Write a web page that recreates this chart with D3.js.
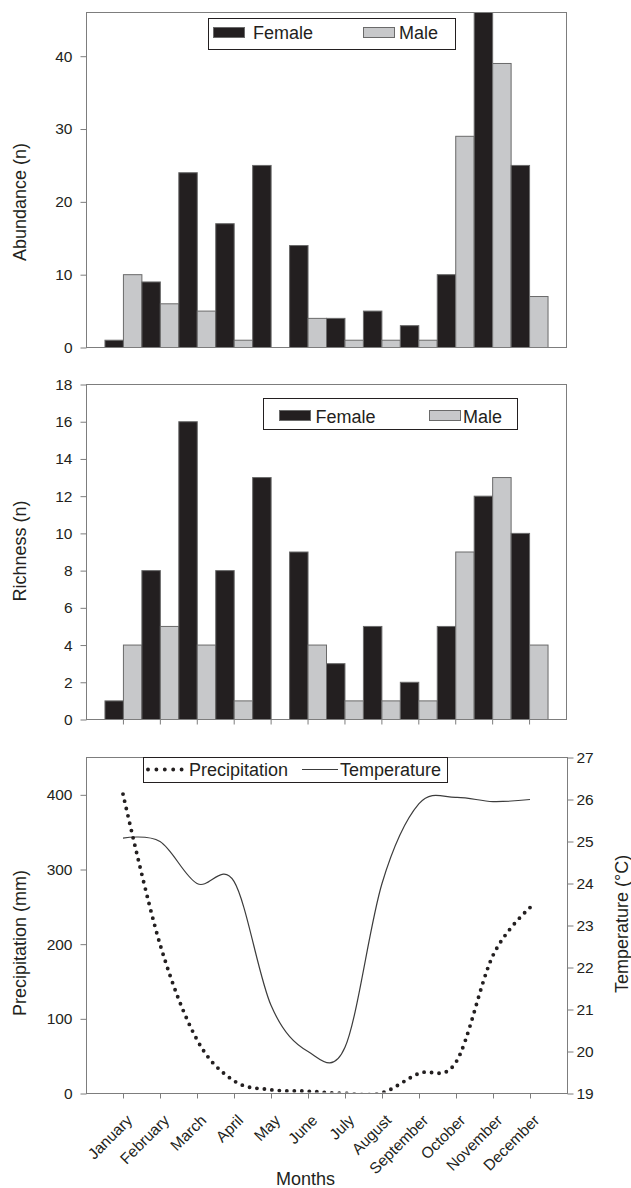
<!DOCTYPE html>
<html>
<head>
<meta charset="utf-8">
<script src="https://cdn.jsdelivr.net/npm/d3@7/dist/d3.min.js"></script>
<style>
  html, body { margin: 0; padding: 0; background: #fff; }
  svg { display: block; font-family: "Liberation Sans", Arial, Helvetica, sans-serif; }
</style>
</head>
<body>
<svg id="chart" width="631" height="1188"></svg>
<script>
// ---------------- DATA ----------------
const months = ["January","February","March","April","May","June","July","August","September","October","November","December"];
const seriesNames = ["Female", "Male"];

const abundanceFemale = [1, 9, 24, 17, 25, 14, 4, 5, 3, 10, 46, 25];
const abundanceMale   = [10, 6, 5, 1, 0, 4, 1, 1, 1, 29, 39, 7];
const abundanceTicks  = [0, 10, 20, 30, 40];

const richnessFemale = [1, 8, 16, 8, 13, 9, 3, 5, 2, 5, 12, 10];
const richnessMale   = [4, 5, 4, 1, 0, 4, 1, 1, 1, 9, 13, 4];
const richnessTicks  = [0, 2, 4, 6, 8, 10, 12, 14, 16, 18];

const precipitation = [401, 200, 72, 17, 5, 3, 0, 1, 27, 42, 185, 249];
const temperature   = [25.08, 25.0, 24.0, 24.05, 21.1, 20.0, 20.1, 24.0, 25.9, 26.05, 25.95, 26.0];
const precipTicks   = [0, 100, 200, 300, 400];
const tempTicks     = [19, 20, 21, 22, 23, 24, 25, 26, 27];

// ---------------- STYLE ----------------
const INK = "#231f20";
const FRAME = "#7d7d7d";
const FEMALE_FILL = "#231f20";
const MALE_FILL = "#c7c8ca";
const BAR_STROKE = "#6a6a6a";
const TICK_FONT = "15.5px";
const LABEL_FONT = "18px";

const svg = d3.select("#chart");
const defs = svg.append("defs");

function styleAxis(g) {
  g.select(".domain").remove();
  g.selectAll(".tick line").attr("stroke", FRAME);
  g.selectAll(".tick text").attr("fill", INK).style("font-size", TICK_FONT);
}

function frame(box) {
  svg.append("rect")
    .attr("x", box.left).attr("y", box.top)
    .attr("width", box.right - box.left).attr("height", box.bottom - box.top)
    .attr("fill", "none").attr("stroke", FRAME).attr("stroke-width", 1);
}

function yLabel(text, x, y) {
  svg.append("text")
    .attr("transform", `translate(${x},${y}) rotate(-90)`)
    .attr("text-anchor", "middle")
    .attr("fill", INK)
    .style("font-size", LABEL_FONT)
    .text(text);
}

function barLegend(lg) {
  const g = svg.append("g");
  g.append("rect").attr("x", lg.x).attr("y", lg.y).attr("width", lg.w).attr("height", lg.h)
    .attr("fill", "#fff").attr("stroke", INK).attr("stroke-width", 1);
  const fills = [FEMALE_FILL, MALE_FILL];
  seriesNames.forEach((name, i) => {
    g.append("rect")
      .attr("x", lg.items[i].sx).attr("y", lg.y + lg.sy)
      .attr("width", 31).attr("height", 10)
      .attr("fill", fills[i]).attr("stroke", BAR_STROKE).attr("stroke-width", 1);
    g.append("text")
      .attr("x", lg.items[i].tx).attr("y", lg.y + lg.ty)
      .attr("fill", INK).style("font-size", LABEL_FONT)
      .text(name);
  });
}

function barChart(cfg) {
  const box = cfg.box;
  const x = d3.scaleBand().domain(months).range([box.left, box.right])
    .paddingInner(0).paddingOuter(0.5);
  const y = d3.scaleLinear().domain([0, cfg.ymax]).range([box.bottom, box.top]);
  const half = x.bandwidth() / 2;

  const clipId = "clip" + cfg.id;
  defs.append("clipPath").attr("id", clipId).append("rect")
    .attr("x", box.left).attr("y", box.top)
    .attr("width", box.right - box.left).attr("height", box.bottom - box.top);

  const data = [];
  months.forEach((m, i) => {
    data.push({ m, s: 0, v: cfg.female[i] });
    data.push({ m, s: 1, v: cfg.male[i] });
  });

  svg.append("g").attr("clip-path", `url(#${clipId})`)
    .selectAll("rect").data(data.filter(d => d.v > 0)).join("rect")
    .attr("x", d => x(d.m) + d.s * half)
    .attr("width", half)
    .attr("y", d => y(d.v))
    .attr("height", d => y(0) - y(d.v))
    .attr("fill", d => d.s === 0 ? FEMALE_FILL : MALE_FILL)
    .attr("stroke", BAR_STROKE).attr("stroke-width", 1);

  frame(box);

  svg.append("g").attr("transform", `translate(${box.left},0)`)
    .call(d3.axisLeft(y).tickValues(cfg.ticks).tickSize(6).tickPadding(8))
    .call(styleAxis);

  if (cfg.xTicks) {
    svg.append("g").attr("transform", `translate(0,${box.bottom})`)
      .call(d3.axisBottom(x).tickSize(5).tickFormat(""))
      .call(styleAxis);
  }

  yLabel(cfg.label, 26, cfg.labelY);
  barLegend(cfg.legend);
}

// ---------------- CHART 1: Abundance ----------------
barChart({
  id: 1,
  box: { left: 86.5, right: 566.5, top: 12.5, bottom: 347.5 },
  ymax: 46, ticks: abundanceTicks,
  female: abundanceFemale, male: abundanceMale,
  xTicks: false,
  label: "Abundance (n)", labelY: 202,
  legend: { x: 208.5, y: 18.5, w: 247, h: 31, sy: 9, ty: 20.5,
            items: [{ sx: 213.5, tx: 253 }, { sx: 363.5, tx: 399 }] }
});

// ---------------- CHART 2: Richness ----------------
barChart({
  id: 2,
  box: { left: 86.5, right: 566.5, top: 384.5, bottom: 719.5 },
  ymax: 18, ticks: richnessTicks,
  female: richnessFemale, male: richnessMale,
  xTicks: true,
  label: "Richness (n)", labelY: 551,
  legend: { x: 263.5, y: 398.5, w: 254, h: 31, sy: 12, ty: 24.5,
            items: [{ sx: 279.5, tx: 315.5 }, { sx: 429.5, tx: 463 }] }
});

// ---------------- CHART 3: Climate ----------------
(function () {
  const box = { left: 86.5, right: 567.5, top: 757.5, bottom: 1093.5 };
  const x = d3.scalePoint().domain(months).range([86, 567]).padding(1);
  const yP = d3.scaleLinear().domain([0, 450]).range([box.bottom, box.top]);
  const yT = d3.scaleLinear().domain([19, 27]).range([box.bottom, box.top]);

  defs.append("clipPath").attr("id", "clip3").append("rect")
    .attr("x", box.left).attr("y", box.top - 10)
    .attr("width", box.right - box.left).attr("height", box.bottom - box.top + 9);

  frame(box);

  const curve = d3.curveCardinal.tension(0);

  svg.append("path")
    .datum(months.map((m, i) => [x(m), yT(temperature[i])]))
    .attr("d", d3.line().curve(curve))
    .attr("fill", "none").attr("stroke", "#3c3c3c").attr("stroke-width", 1.2);

  svg.append("path")
    .datum(months.map((m, i) => [x(m), yP(precipitation[i])]))
    .attr("clip-path", "url(#clip3)")
    .attr("d", d3.line().curve(curve))
    .attr("fill", "none").attr("stroke", INK).attr("stroke-width", 3.9)
    .attr("stroke-linecap", "round").attr("stroke-dasharray", "0 7.5");

  svg.append("g").attr("transform", `translate(${box.left},0)`)
    .call(d3.axisLeft(yP).tickValues(precipTicks).tickSize(6).tickPadding(8))
    .call(styleAxis);

  svg.append("g").attr("transform", `translate(${box.right},0)`)
    .call(d3.axisRight(yT).tickValues(tempTicks).tickSize(6).tickPadding(3))
    .call(styleAxis);

  const xa = svg.append("g").attr("transform", `translate(0,${box.bottom})`)
    .call(d3.axisBottom(x).tickSize(5).tickPadding(0))
    .call(styleAxis);
  xa.selectAll(".tick text")
    .style("font-size", "15.5px")
    .attr("text-anchor", "end")
    .attr("y", 0).attr("dy", "0.71em")
    .attr("transform", "translate(2,20) rotate(-45)");

  svg.append("text")
    .attr("x", 305.5).attr("y", 1185)
    .attr("text-anchor", "middle").attr("fill", INK)
    .style("font-size", LABEL_FONT).text("Months");

  yLabel("Precipitation (mm)", 26, 943);
  yLabel("Temperature (\u00B0C)", 628, 924);

  // legend
  const lg = svg.append("g");
  lg.append("rect").attr("x", 143.5).attr("y", 757.5).attr("width", 304).attr("height", 25)
    .attr("fill", "#fff").attr("stroke", INK).attr("stroke-width", 1);
  lg.append("path").attr("d", "M148,769.5H183")
    .attr("stroke", INK).attr("stroke-width", 3.9)
    .attr("stroke-linecap", "round").attr("stroke-dasharray", "0 8.4");
  lg.append("text").attr("x", 189).attr("y", 775.5).attr("fill", INK)
    .style("font-size", LABEL_FONT).text("Precipitation");
  lg.append("path").attr("d", "M302,769.5H338")
    .attr("stroke", "#3c3c3c").attr("stroke-width", 1.2);
  lg.append("text").attr("x", 340).attr("y", 775.5).attr("fill", INK)
    .style("font-size", LABEL_FONT).text("Temperature");
})();
</script>
</body>
</html>
